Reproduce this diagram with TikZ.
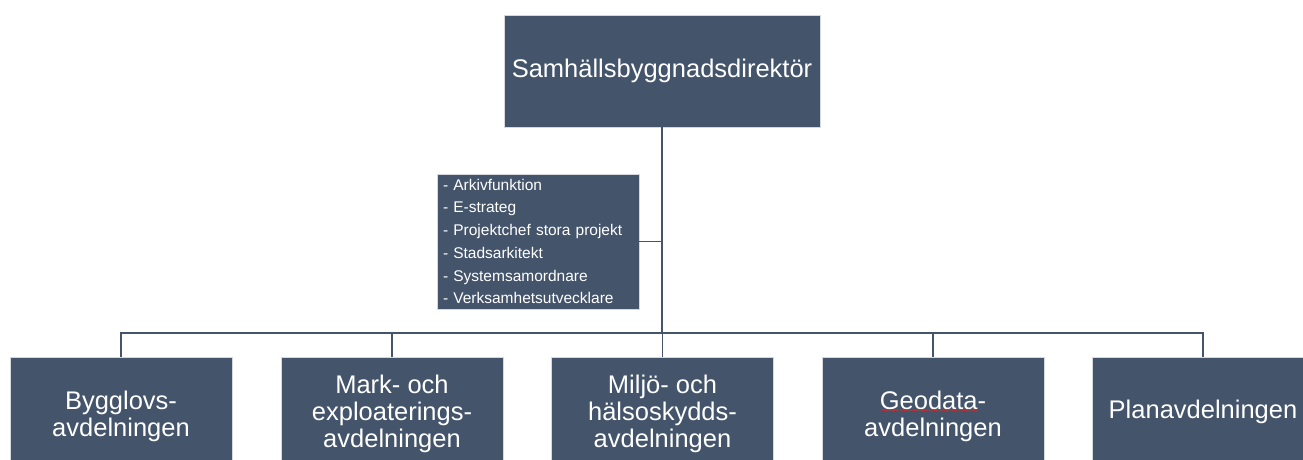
\documentclass[tikz,border=0pt]{standalone}
\usepackage{fontspec}
\setmainfont{Liberation Sans}
\usetikzlibrary{decorations.pathmorphing}
\definecolor{boxblue}{HTML}{44546A}
\definecolor{boxedge}{HTML}{D5D9DF}
\definecolor{spellred}{HTML}{D02A2A}
\begin{document}
\begin{tikzpicture}[x=1pt,y=-1pt,
 orgbox/.style={fill=boxblue, draw=boxedge, line width=0.8pt, text=white, align=center, inner sep=0pt},
 topbox/.style={orgbox, minimum width=316pt, minimum height=112pt, font=\fontsize{25.5}{27}\selectfont},
 deptbox/.style={orgbox, minimum width=222pt, minimum height=110pt},
 depttext/.style={text=white, align=center, inner sep=0pt, font=\fontsize{25.5}{27}\selectfont},
 staffbox/.style={orgbox, align=left, minimum width=202pt, minimum height=135pt, text width=190pt, inner xsep=6pt, font=\fontsize{15.5}{22.7}\selectfont},
 link/.style={draw=boxblue, line width=1.7pt}]
\clip (0,0) rectangle (1303,459);
\fill[white] (0,0) rectangle (1303,459);
\node[topbox] (top) at (662,71) {Samhällsbyggnadsdirektör};
\node[staffbox] (staff) at (538,241.5) {- Arkivfunktion\\- E-strateg\\- Projektchef stora projekt\\- Stadsarkitekt\\- Systemsamordnare\\- Verksamhetsutvecklare};
\node[deptbox, label={[depttext, yshift=-4.5pt]center:{Bygglovs-\\avdelningen}}] (d1) at (121,412) {};
\node[deptbox, label={[depttext, yshift=-2pt]center:{Mark- och\\exploaterings-\\avdelningen}}] (d2) at (392,412) {};
\node[deptbox, label={[depttext, yshift=-2pt]center:{Miljö- och\\hälsoskydds-\\avdelningen}}] (d3) at (662.5,412) {};
\node[deptbox, label={[depttext, yshift=-4.5pt]center:{Geodata-\\avdelningen}}] (d4) at (933,412) {};
\node[deptbox, label={[depttext]center:{Planavdelningen}}] (d5) at (1203,412) {};
\coordinate (j) at (662,333);
\path[link] (top.south) -- (j);
\path[link] (staff.east) -- (staff.east -| top.south);
\path[link] (d1.north) |- (j);
\path[link] (d2.north) |- (j);
\path[link] (d3.north) |- (j);
\path[link] (d4.north) |- (j);
\path[link] (d5.north) |- (j);
\draw[spellred, line width=0.6pt, decorate, decoration={snake, amplitude=0.6pt, segment length=2.5pt}] (880,410) -- (978,410);
\end{tikzpicture}
\end{document}
